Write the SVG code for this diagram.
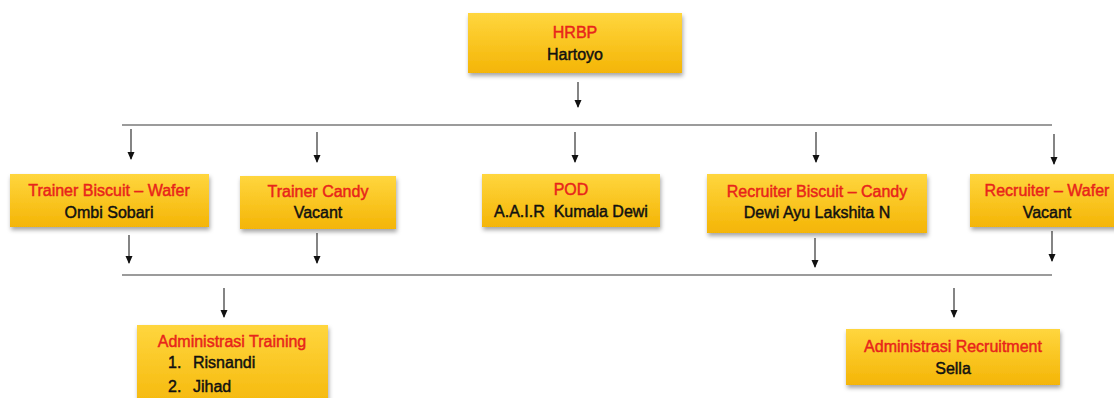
<svg xmlns="http://www.w3.org/2000/svg" width="1114" height="398" viewBox="0 0 1114 398">
<style>
.box{fill:url(#yg);filter:url(#sh)}
.t{font-family:"Liberation Sans",Arial,Helvetica,sans-serif;font-size:16px;fill:#e8241b;stroke:#e8241b;stroke-width:0.45;text-anchor:middle}
.n{font-family:"Liberation Sans",Arial,Helvetica,sans-serif;font-size:16px;fill:#111;stroke:#111;stroke-width:0.45;text-anchor:middle}
.l{font-family:"Liberation Sans",Arial,Helvetica,sans-serif;font-size:16px;fill:#111;stroke:#111;stroke-width:0.45}
.ar{stroke:#333;stroke-width:1.2;fill:none;marker-end:url(#ah)}
.hl{stroke:#7a7a7a;stroke-width:1.6;fill:none}
</style>
<defs>
<linearGradient id="yg" x1="0" y1="0" x2="0" y2="1">
<stop offset="0" stop-color="#ffd63e"/>
<stop offset="1" stop-color="#f4b506"/>
</linearGradient>
<filter id="sh" x="-10%" y="-20%" width="120%" height="150%">
<feDropShadow dx="1" dy="3" stdDeviation="2" flood-color="#000" flood-opacity="0.35"/>
</filter>
<marker id="ah" viewBox="0 0 8 8" refX="7" refY="4" markerWidth="8" markerHeight="8" markerUnits="userSpaceOnUse" orient="auto">
<path d="M0,0.5 L8,4 L0,7.5 Z" fill="#111"/>
</marker>
</defs>
<rect width="1114" height="398" fill="#fff"/>

<g id="connectors">
<line class="ar" x1="578" y1="82" x2="578" y2="107"/>
<line class="hl" x1="122" y1="125" x2="1052" y2="125"/>
<line class="ar" x1="131" y1="129" x2="131" y2="159"/>
<line class="ar" x1="317" y1="132" x2="317" y2="162"/>
<line class="ar" x1="575" y1="132" x2="575" y2="162"/>
<line class="ar" x1="816" y1="132" x2="816" y2="162"/>
<line class="ar" x1="1054" y1="134" x2="1054" y2="164"/>
<line class="ar" x1="129" y1="235" x2="129" y2="263"/>
<line class="ar" x1="317" y1="233" x2="317" y2="263"/>
<line class="ar" x1="815" y1="238" x2="815" y2="267"/>
<line class="ar" x1="1052" y1="231" x2="1052" y2="261"/>
<line class="hl" x1="122" y1="275" x2="1052" y2="275"/>
<line class="ar" x1="224" y1="288" x2="224" y2="317"/>
<line class="ar" x1="954" y1="288" x2="954" y2="317"/>
</g>

<g id="hrbp">
<rect class="box" x="468" y="13" width="214" height="60"/>
<text class="t" x="575" y="38">HRBP</text>
<text class="n" x="575" y="60">Hartoyo</text>
</g>

<g id="trainer-biscuit-wafer">
<rect class="box" x="10" y="174" width="199" height="53"/>
<text class="t" x="109" y="196">Trainer Biscuit – Wafer</text>
<text class="n" x="109" y="218">Ombi Sobari</text>
</g>

<g id="trainer-candy">
<rect class="box" x="240" y="176" width="156" height="53"/>
<text class="t" x="318" y="197">Trainer Candy</text>
<text class="n" x="318" y="218">Vacant</text>
</g>

<g id="pod">
<rect class="box" x="482" y="174" width="178" height="53"/>
<text class="t" x="571" y="195">POD</text>
<text class="n" x="571" y="217" xml:space="preserve">A.A.I.R  Kumala Dewi</text>
</g>

<g id="recruiter-biscuit-candy">
<rect class="box" x="707" y="174" width="220" height="59"/>
<text class="t" x="817" y="197">Recruiter Biscuit – Candy</text>
<text class="n" x="817" y="218">Dewi Ayu Lakshita N</text>
</g>

<g id="recruiter-wafer">
<rect class="box" x="970" y="174" width="156" height="53"/>
<text class="t" x="1047" y="196">Recruiter – Wafer</text>
<text class="n" x="1047" y="218">Vacant</text>
</g>

<g id="admin-training">
<rect class="box" x="137" y="325" width="191" height="90"/>
<text class="t" x="232" y="347">Administrasi Training</text>
<text class="l" x="168" y="368">1.</text>
<text class="l" x="193" y="368">Risnandi</text>
<text class="l" x="168" y="392">2.</text>
<text class="l" x="193" y="392">Jihad</text>
</g>

<g id="admin-recruitment">
<rect class="box" x="846" y="329" width="214" height="56"/>
<text class="t" x="953" y="352">Administrasi Recruitment</text>
<text class="n" x="953" y="374">Sella</text>
</g>
</svg>
